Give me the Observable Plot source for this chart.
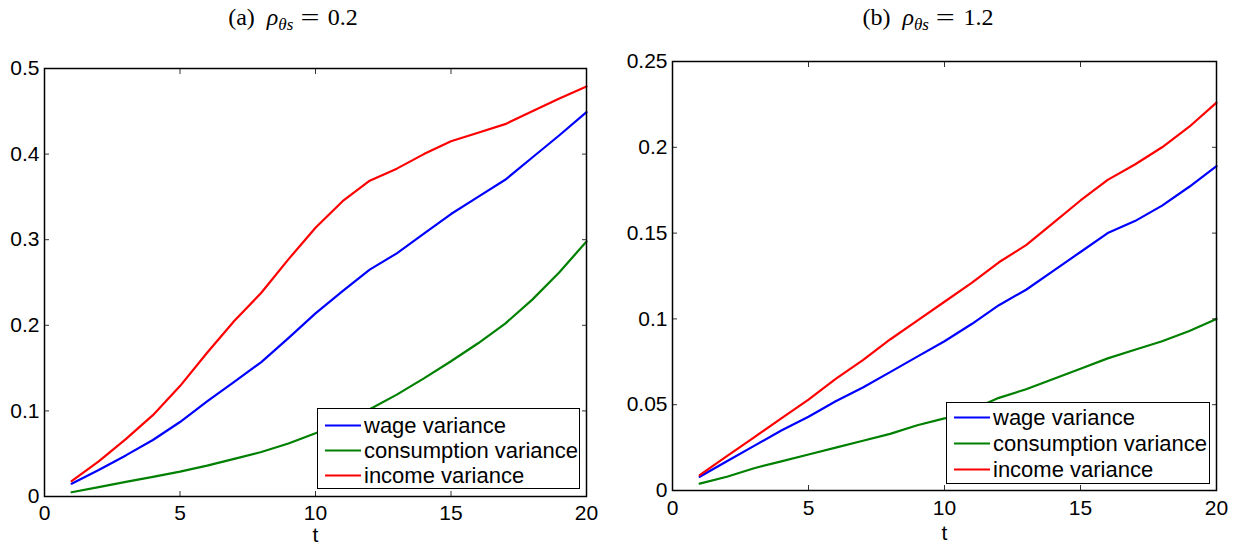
<!DOCTYPE html>
<html><head><meta charset="utf-8">
<script src="https://cdn.jsdelivr.net/npm/d3@7"></script>
<script src="https://cdn.jsdelivr.net/npm/@observablehq/plot@0.6"></script>
<style>
body{margin:0;background:#fff;}
#wrap{position:relative;width:1238px;height:544px;overflow:hidden;background:#fff;font-family:"Liberation Sans",Arial,sans-serif;}
.panel{position:absolute;top:0;}
.title{position:absolute;top:3px;font-family:"Liberation Serif","DejaVu Serif",serif;font-size:24px;white-space:nowrap;transform:translateX(-50%);line-height:28px;color:#000;}
.title .rho{margin-left:12px;}
.title sub{font-size:17px;vertical-align:-5px;line-height:0;}
.title .eq{margin:0 11px 0 10px;display:inline-block;transform:scaleX(1.4);}
.legend{position:absolute;box-sizing:border-box;border:1.3px solid #000;background:#fff;font-size:22px;color:#000;}
.legend .row{position:absolute;left:0;right:0;height:25px;transform:translateY(-50%);}
.legend .sw{position:absolute;left:7px;top:11.5px;width:36px;height:2px;}
.legend .lb{position:absolute;left:46px;top:0;line-height:25px;white-space:nowrap;}
</style></head>
<body><div id="wrap"></div>
<script>
const T = [1,2,3,4,5,6,7,8,9,10,11,12,13,14,15,16,17,18,19,20];
const names = ["wage variance","consumption variance","income variance"];
const colors = ["#0000ff","#008000","#ff0000"];
const titles = ["(a)", "(b)"];
const rhoValues = ["0.2", "1.2"];

const wageA   = [0.015,0.031,0.048,0.066,0.087,0.111,0.134,0.157,0.185,0.214,0.240,0.265,0.284,0.307,0.330,0.350,0.370,0.396,0.422,0.449];
const consA   = [0.005,0.011,0.017,0.023,0.029,0.036,0.044,0.052,0.062,0.074,0.087,0.102,0.119,0.138,0.158,0.179,0.202,0.230,0.262,0.298];
const incomeA = [0.018,0.041,0.067,0.095,0.129,0.168,0.205,0.238,0.277,0.314,0.345,0.369,0.383,0.400,0.415,0.425,0.435,0.450,0.465,0.479];

const wageB   = [0.008,0.017,0.026,0.035,0.043,0.052,0.060,0.069,0.078,0.087,0.097,0.108,0.117,0.128,0.139,0.150,0.157,0.166,0.177,0.189];
const consB   = [0.004,0.008,0.013,0.017,0.021,0.025,0.029,0.033,0.038,0.042,0.047,0.054,0.059,0.065,0.071,0.077,0.082,0.087,0.093,0.100];
const incomeB = [0.009,0.020,0.031,0.042,0.053,0.065,0.076,0.088,0.099,0.110,0.121,0.133,0.143,0.156,0.169,0.181,0.190,0.200,0.212,0.226];

const xTicks = [0,5,10,15,20];
const yTicksA = [0,0.1,0.2,0.3,0.4,0.5];
const yTicksB = [0,0.05,0.1,0.15,0.2,0.25];

const wrap = document.getElementById("wrap");
const fmt = d => String(+(+d).toFixed(3));

function panel(cfg) {
  const rows = [];
  cfg.series.forEach((vals, i) => vals.forEach((v, j) => rows.push({t: T[j], v, s: names[i]})));
  const svg = Plot.plot({
    width: cfg.width, height: 544,
    marginLeft: cfg.ml, marginRight: cfg.mr, marginTop: cfg.mt, marginBottom: cfg.mb,
    x: {domain: [0, 20]},
    y: {domain: cfg.yDomain},
    color: {domain: names, range: colors},
    style: {fontFamily: "'Liberation Sans', Arial, sans-serif", fontSize: "21px", background: "transparent", color: "#000"},
    marks: [
      Plot.line(rows, {x: "t", y: "v", stroke: "s", z: "s", strokeWidth: 2.2}),
      Plot.axisX({anchor: "bottom", ticks: xTicks, tickSize: -5, tickPadding: 5 + cfg.xgap, tickFormat: d => String(d), label: null, fontSize: 21, strokeOpacity: 0.8}),
      Plot.axisX({anchor: "top", ticks: xTicks, tickSize: -5, tickFormat: () => "", label: null, strokeOpacity: 0.8}),
      Plot.axisY({anchor: "left", ticks: cfg.yTicks, tickSize: -5, tickPadding: 10, tickFormat: fmt, label: null, fontSize: 21, strokeOpacity: 0.8}),
      Plot.axisY({anchor: "right", ticks: cfg.yTicks, tickSize: -5, tickFormat: () => "", label: null, strokeOpacity: 0.8}),
      Plot.frame({stroke: "#000", strokeWidth: 1.5}),
      Plot.text(["t"], {frameAnchor: "bottom", dy: cfg.tdy, lineAnchor: "bottom", fontSize: 21, fill: "#000"})
    ]
  });
  svg.classList.add("panel");
  svg.style.left = cfg.left + "px";
  wrap.appendChild(svg);

  const tt = document.createElement("div");
  tt.className = "title";
  tt.style.left = cfg.titleX + "px";
  tt.innerHTML = `${cfg.title}<i class="rho">ρ</i><sub><i>θs</i></sub><span class="eq">=</span>${cfg.rho}`;
  wrap.appendChild(tt);

  const lg = document.createElement("div");
  lg.className = "legend";
  Object.assign(lg.style, {left: cfg.lg[0] + "px", top: cfg.lg[1] + "px", width: cfg.lg[2] + "px", height: cfg.lg[3] + "px"});
  names.forEach((n, i) => {
    const r = document.createElement("div");
    r.className = "row";
    r.style.top = (cfg.lgFirst + i * cfg.lgStep) + "px";
    r.innerHTML = `<div class="sw" style="background:${colors[i]}"></div><div class="lb">${n}</div>`;
    lg.appendChild(r);
  });
  wrap.appendChild(lg);
}

panel({left: 0, width: 600, ml: 44, mr: 14, mt: 68, mb: 48, yDomain: [0, 0.5], yTicks: yTicksA,
  series: [wageA, consA, incomeA], xgap: 9, tdy: 45, title: titles[0], rho: rhoValues[0], titleX: 293,
  lg: [317, 408, 263, 81], lgFirst: 16, lgStep: 25});
panel({left: 600, width: 638, ml: 72, mr: 22, mt: 61, mb: 54, yDomain: [0, 0.25], yTicks: yTicksB,
  series: [wageB, consB, incomeB], xgap: 10, tdy: 49, title: titles[1], rho: rhoValues[1], titleX: 928,
  lg: [946, 402, 264, 82], lgFirst: 14, lgStep: 26});
</script></body></html>
